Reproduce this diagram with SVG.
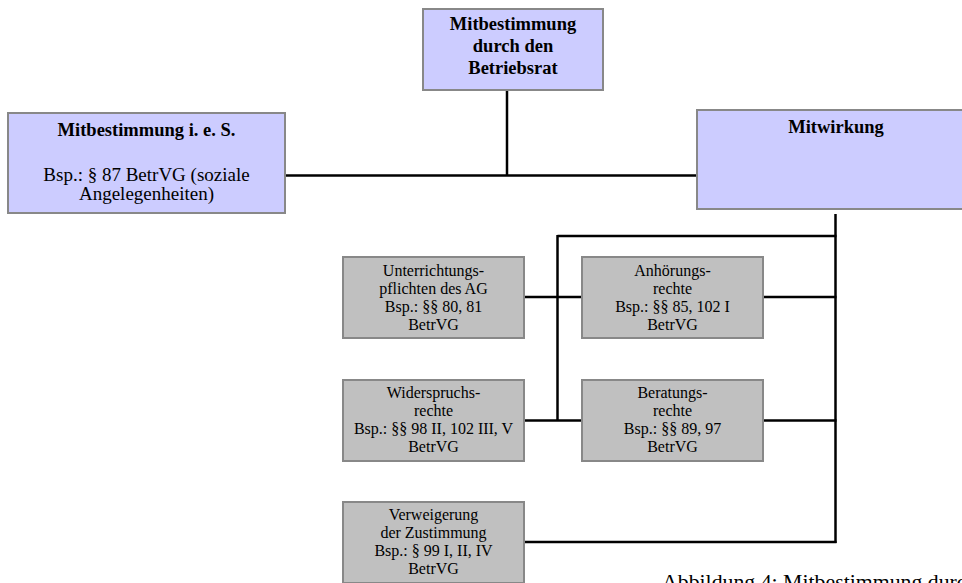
<svg xmlns="http://www.w3.org/2000/svg" width="962" height="583" viewBox="0 0 962 583">
<style>
.blue{fill:#ccccff;stroke:#888888;stroke-width:2}
.gray{fill:#c0c0c0;stroke:#888888;stroke-width:2}
.t{font-family:"Liberation Serif","Times New Roman",serif;fill:#000;text-anchor:middle}
.b{font-weight:bold;font-size:18.5px}
.r{font-size:19px}
.s{font-size:16px}
.conn{stroke:#000;stroke-width:2.5;fill:none}
</style>
<rect width="962" height="583" fill="#ffffff"/>
<g id="connectors">
<line class="conn" x1="507" y1="90" x2="507" y2="175.5"/>
<line class="conn" x1="285" y1="175.5" x2="697" y2="175.5"/>
<line class="conn" x1="835.5" y1="214" x2="835.5" y2="543"/>
<line class="conn" x1="557.5" y1="236" x2="836.5" y2="236"/>
<line class="conn" x1="557.5" y1="235" x2="557.5" y2="421"/>
<line class="conn" x1="524" y1="297" x2="582" y2="297"/>
<line class="conn" x1="763" y1="297" x2="836.5" y2="297"/>
<line class="conn" x1="524" y1="420.5" x2="582" y2="420.5"/>
<line class="conn" x1="763" y1="420.5" x2="836.5" y2="420.5"/>
<line class="conn" x1="524" y1="542" x2="836.5" y2="542"/>
</g>
<g id="node-betriebsrat">
<rect class="blue" x="423" y="9" width="180" height="81"/>
<text class="t b"><tspan x="513" y="30">Mitbestimmung</tspan><tspan x="513" y="52">durch den</tspan><tspan x="513" y="74">Betriebsrat</tspan></text>
</g>
<g id="node-mitbestimmung-ies">
<rect class="blue" x="8" y="113" width="277" height="100"/>
<text class="t b" x="146.5" y="136">Mitbestimmung i. e. S.</text>
<text class="t r"><tspan x="146.5" y="181">Bsp.: § 87 BetrVG (soziale</tspan><tspan x="146.5" y="200">Angelegenheiten)</tspan></text>
</g>
<g id="node-mitwirkung">
<rect class="blue" x="697" y="110" width="278" height="99"/>
<text class="t b" x="836" y="133">Mitwirkung</text>
</g>
<g id="node-unterrichtung">
<rect class="gray" x="343" y="257" width="181" height="81"/>
<text class="t s"><tspan x="433.5" y="276">Unterrichtungs-</tspan><tspan x="433.5" y="294">pflichten des AG</tspan><tspan x="433.5" y="312">Bsp.: §§ 80, 81</tspan><tspan x="433.5" y="330">BetrVG</tspan></text>
</g>
<g id="node-anhoerung">
<rect class="gray" x="582" y="257" width="181" height="81"/>
<text class="t s"><tspan x="672.5" y="276">Anhörungs-</tspan><tspan x="672.5" y="294">rechte</tspan><tspan x="672.5" y="312">Bsp.: §§ 85, 102 I</tspan><tspan x="672.5" y="330">BetrVG</tspan></text>
</g>
<g id="node-widerspruch">
<rect class="gray" x="343" y="380" width="181" height="81"/>
<text class="t s"><tspan x="433.5" y="398">Widerspruchs-</tspan><tspan x="433.5" y="416">rechte</tspan><tspan x="433.5" y="434">Bsp.: §§ 98 II, 102 III, V</tspan><tspan x="433.5" y="452">BetrVG</tspan></text>
</g>
<g id="node-beratung">
<rect class="gray" x="582" y="380" width="181" height="81"/>
<text class="t s"><tspan x="672.5" y="398">Beratungs-</tspan><tspan x="672.5" y="416">rechte</tspan><tspan x="672.5" y="434">Bsp.: §§ 89, 97</tspan><tspan x="672.5" y="452">BetrVG</tspan></text>
</g>
<g id="node-verweigerung">
<rect class="gray" x="343" y="502" width="181" height="81"/>
<text class="t s"><tspan x="433.5" y="520">Verweigerung</tspan><tspan x="433.5" y="538">der Zustimmung</tspan><tspan x="433.5" y="556">Bsp.: § 99 I, II, IV</tspan><tspan x="433.5" y="574">BetrVG</tspan></text>
</g>
<text id="caption" x="662" y="589" style="font-family:'Liberation Serif','Times New Roman',serif;font-size:21.8px;fill:#000">Abbildung 4: Mitbestimmung durch den Betriebsrat</text>
</svg>
